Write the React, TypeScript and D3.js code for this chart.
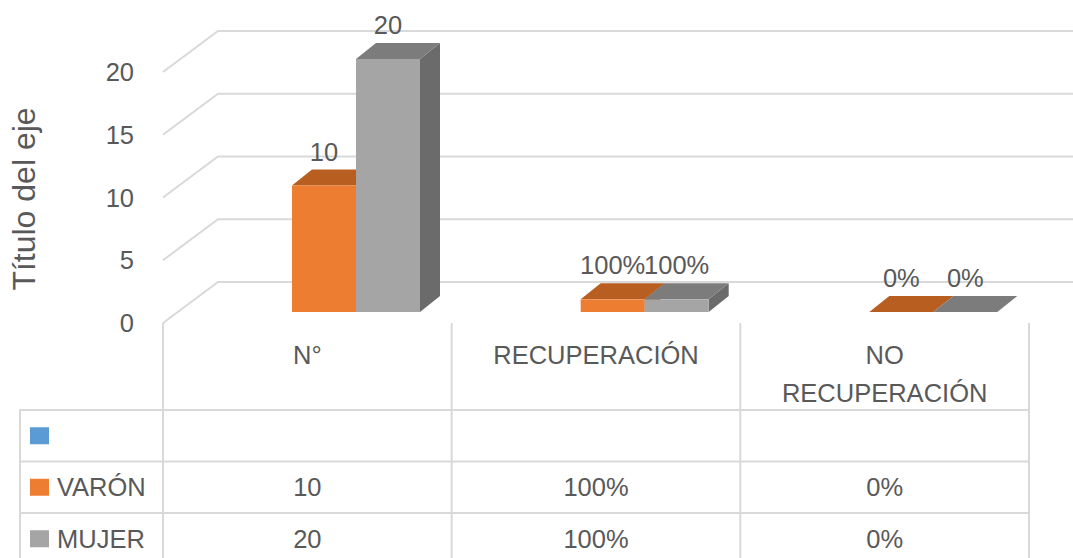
import React from "react";
import * as d3 from "d3";

const categories = ["N°", "RECUPERACIÓN", "NO RECUPERACIÓN"];
const categoryLines = [["N°"], ["RECUPERACIÓN"], ["NO", "RECUPERACIÓN"]];
const seriesNames = ["", "VARÓN", "MUJER"];
const seriesColors = ["#5B9BD5", "#ED7D31", "#A5A5A5"];
const seriesTopColors = ["#41719C", "#B85E20", "#7C7C7C"];
const seriesSideColors = ["#3A6590", "#9E4F1A", "#6B6B6B"];
const blankValues: (number | null)[] = [null, null, null];
const varonValues = [10, 1, 0];
const mujerValues = [20, 1, 0];
const categoryFormats = ["d", ".0%", ".0%"];
const yTicks = [0, 5, 10, 15, 20];

const W = 1073;
const H = 558;
const FONT = "'Liberation Sans', Arial, sans-serif";
const TEXT = "#595959";
const GRID = "#D9D9D9";

export default function App() {
  const allSeries = [blankValues, varonValues, mujerValues];
  const plotted = [1, 2]; // series with values

  // geometry
  const tableLeft = 20;
  const catLeft = 163;
  const catRight = 1029;
  const wallDx = 55;
  const wallDy = -41;
  const barDx = 20;
  const barDy = -16;

  const x = d3.scaleBand<string>().domain(categories).range([catLeft, catRight]);
  const yFront = d3.scaleLinear().domain([0, 20]).range([323, 72]);
  const yBar = d3.scaleLinear().domain([0, 20]).range([312, 59]);

  const inner = d3
    .scaleBand<number>()
    .domain(plotted)
    .range([129, 129 + 128])
    .padding(0);

  const rowTop = 410;
  const rowH = 51.5;
  const rowYs = [rowTop, rowTop + rowH, rowTop + 2 * rowH, rowTop + 3 * rowH];

  const fmt = categoryFormats.map((f) => d3.format(f));

  const bars: React.ReactNode[] = [];
  const labels: React.ReactNode[] = [];
  categories.forEach((c, ci) => {
    plotted.forEach((si) => {
      const v = allSeries[si][ci] as number;
      const x0 = (x(c) as number) + (inner(si) as number);
      const x1 = x0 + inner.bandwidth();
      const yb = yBar(0);
      const yt = yBar(v);
      const key = `${ci}-${si}`;
      bars.push(
        <g key={key}>
          <polygon
            points={`${x1},${yt} ${x1 + barDx},${yt + barDy} ${x1 + barDx},${yb + barDy} ${x1},${yb}`}
            fill={seriesSideColors[si]}
          />
          <polygon
            points={`${x0},${yt} ${x0 + barDx},${yt + barDy} ${x1 + barDx},${yt + barDy} ${x1},${yt}`}
            fill={seriesTopColors[si]}
          />
          {yb - yt > 0 && (
            <rect x={x0} y={yt} width={x1 - x0} height={yb - yt} fill={seriesColors[si]} />
          )}
        </g>
      );
      labels.push(
        <text
          key={"l" + key}
          x={(x0 + x1) / 2}
          y={yt + barDy - 9}
          textAnchor="middle"
          fontSize={25.5}
          fill={TEXT}
          fontFamily={FONT}
        >
          {fmt[ci](v)}
        </text>
      );
    });
  });

  return (
    <svg
      width={W}
      height={H}
      style={{ position: "absolute", left: 0, top: 0, background: "#fff" }}
      fontFamily={FONT}
    >
      {/* gridlines: side wall + back wall */}
      {yTicks.map((t) => (
        <polyline
          key={"g" + t}
          points={`${catLeft},${yFront(t)} ${catLeft + wallDx},${yFront(t) + wallDy} ${W},${yFront(t) + wallDy}`}
          fill="none"
          stroke={GRID}
          strokeWidth={2}
        />
      ))}
      {/* tick labels */}
      {yTicks.map((t) => (
        <text
          key={"t" + t}
          x={134}
          y={yFront(t) + 9}
          textAnchor="end"
          fontSize={25.5}
          fill={TEXT}
        >
          {t}
        </text>
      ))}
      {/* axis title */}
      <text
        transform={`translate(35,199) rotate(-90)`}
        textAnchor="middle"
        fontSize={32}
        fill={TEXT}
      >
        Título del eje
      </text>

      {bars}
      {labels}

      {/* data table lines */}
      {[catLeft, ...categories.map((c) => (x(c) as number) + x.bandwidth())].map((lx, i) => (
        <line key={"v" + i} x1={lx} x2={lx} y1={323} y2={H + 10} stroke={GRID} strokeWidth={2} />
      ))}
      <line x1={tableLeft} x2={tableLeft} y1={rowTop} y2={H + 10} stroke={GRID} strokeWidth={2} />
      {rowYs.map((ry, i) => (
        <line key={"h" + i} x1={tableLeft - 1} x2={catRight + 1} y1={ry} y2={ry} stroke={GRID} strokeWidth={2} />
      ))}

      {/* category header */}
      {categories.map((c, ci) =>
        categoryLines[ci].map((ln, li) => (
          <text
            key={"c" + ci + li}
            x={(x(c) as number) + x.bandwidth() / 2}
            y={364 + li * 38}
            textAnchor="middle"
            fontSize={25.5}
            fill={TEXT}
          >
            {ln}
          </text>
        ))
      )}

      {/* rows */}
      {seriesNames.map((name, si) => {
        const top = rowYs[si];
        const cy = top + rowH / 2;
        return (
          <g key={"r" + si}>
            <rect x={30} y={cy - 8.5} width={19} height={17} fill={seriesColors[si]} />
            <text x={57} y={cy + 9} fontSize={25.5} fill={TEXT}>
              {name}
            </text>
            {categories.map((c, ci) => {
              const v = allSeries[si][ci];
              return v == null ? null : (
                <text
                  key={"d" + ci}
                  x={(x(c) as number) + x.bandwidth() / 2}
                  y={cy + 9}
                  textAnchor="middle"
                  fontSize={25.5}
                  fill={TEXT}
                >
                  {fmt[ci](v)}
                </text>
              );
            })}
          </g>
        );
      })}
    </svg>
  );
}
